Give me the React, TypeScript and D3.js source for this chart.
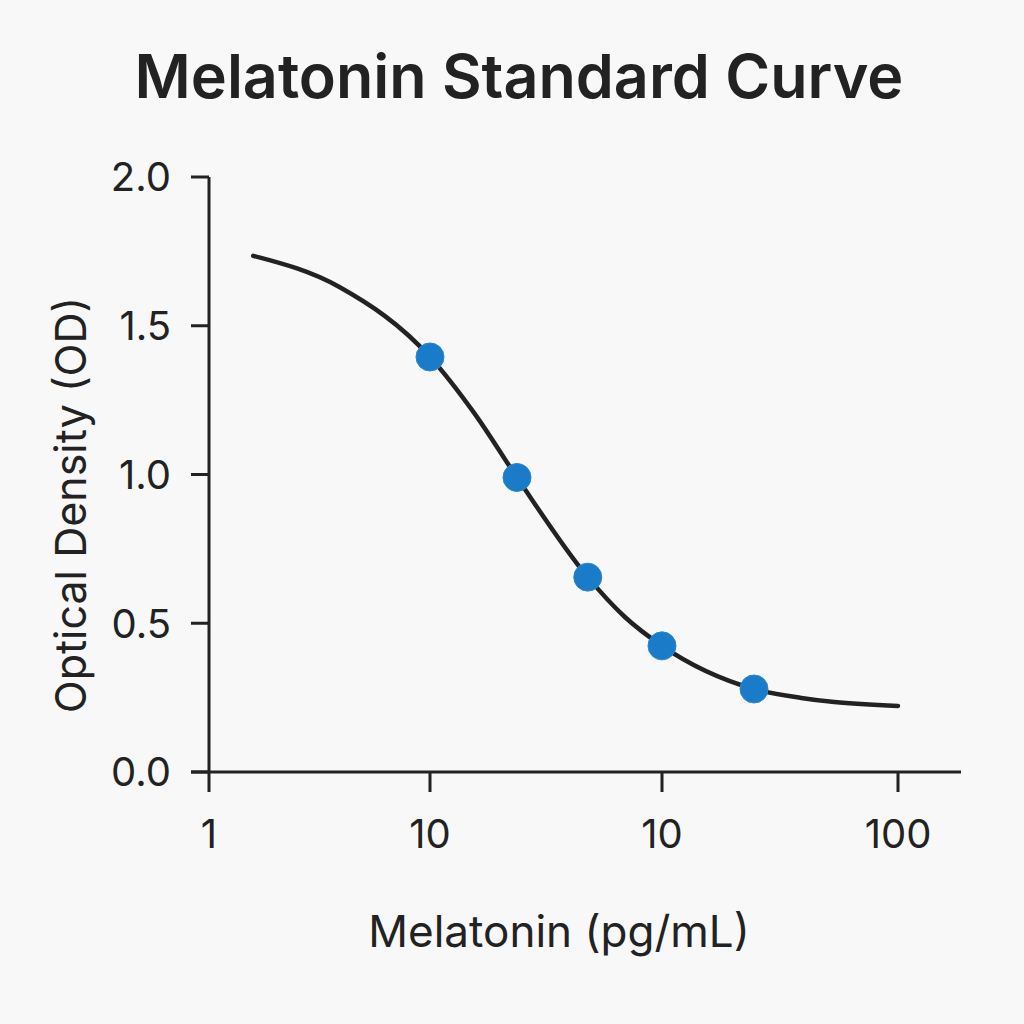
import React, { useEffect, useRef } from 'react';
import * as d3 from 'd3';

// Tick labels exactly as printed on the x axis (the axis is indexed by tick position)
const xTickLabels = ['1', '10', '10', '100'];
const yTicks = [0, 0.5, 1.0, 1.5, 2.0];

// Standard points: x in tick-index units, OD values
const standardX = [1.0, 1.375, 1.68, 2.0, 2.39];
const standardOD = [1.395, 0.99, 0.655, 0.424, 0.279];

// Fitted curve
const curveX = [0.2, 0.59, 1.0, 1.19, 1.375, 1.68, 1.84, 2.0, 2.39, 2.59, 2.73, 3.0];
const curveOD = [1.735, 1.63, 1.395, 1.207, 0.99, 0.655, 0.521, 0.424, 0.279, 0.249, 0.235, 0.222];

const App = () => {
  const width = 1024;
  const height = 1024;
  const svgRef = useRef<SVGSVGElement | null>(null);

  useEffect(() => {
    const svg = d3.select(svgRef.current);
    svg.selectAll('*').remove();

    const font = 'Inter, "Noto Sans", sans-serif';
    const ink = '#222';

    svg.append('rect').attr('width', width).attr('height', height).attr('fill', '#f8f8f8');

    // x positions of the four printed ticks are not evenly spaced
    const x = d3.scaleLinear().domain([0, 1, 2, 3]).range([209, 430, 662, 898]);
    const y = d3.scaleLinear().domain([0, 2]).range([772, 177]);

    // Title
    svg
      .append('text')
      .attr('x', 519)
      .attr('y', 98)
      .attr('text-anchor', 'middle')
      .style('font-family', font)
      .style('font-weight', 600)
      .style('font-size', '61px')
      .style('fill', ink)
      .text('Melatonin Standard Curve');

    // Y axis
    svg
      .append('line')
      .attr('x1', x(0))
      .attr('x2', x(0))
      .attr('y1', y(2))
      .attr('y2', y(0))
      .attr('stroke', ink)
      .attr('stroke-width', 3);

    svg
      .selectAll('.ytick')
      .data(yTicks)
      .enter()
      .append('line')
      .attr('x1', x(0) - 18)
      .attr('x2', x(0))
      .attr('y1', (d) => y(d))
      .attr('y2', (d) => y(d))
      .attr('stroke', ink)
      .attr('stroke-width', 3);

    svg
      .selectAll('.ylabel')
      .data(yTicks)
      .enter()
      .append('text')
      .attr('x', 171)
      .attr('y', (d) => y(d))
      .attr('dy', '0.36em')
      .attr('text-anchor', 'end')
      .style('font-family', font)
      .style('font-size', '40px')
      .style('fill', ink)
      .text((d) => d3.format('.1f')(d));

    // X axis
    svg
      .append('line')
      .attr('x1', x(0) - 18)
      .attr('x2', 961)
      .attr('y1', y(0))
      .attr('y2', y(0))
      .attr('stroke', ink)
      .attr('stroke-width', 3);

    svg
      .selectAll('.xtick')
      .data(xTickLabels)
      .enter()
      .append('line')
      .attr('x1', (_, i) => x(i))
      .attr('x2', (_, i) => x(i))
      .attr('y1', y(0))
      .attr('y2', y(0) + 20)
      .attr('stroke', ink)
      .attr('stroke-width', 3);

    svg
      .selectAll('.xlabel')
      .data(xTickLabels)
      .enter()
      .append('text')
      .attr('x', (_, i) => x(i))
      .attr('y', 848)
      .attr('text-anchor', 'middle')
      .style('font-family', font)
      .style('font-size', '40px')
      .style('fill', ink)
      .text((d) => d);

    // Axis titles
    svg
      .append('text')
      .attr('x', 559)
      .attr('y', 947)
      .attr('text-anchor', 'middle')
      .style('font-family', font)
      .style('font-size', '44px')
      .style('fill', ink)
      .text('Melatonin (pg/mL)');

    svg
      .append('text')
      .attr('transform', 'translate(86, 505) rotate(-90)')
      .attr('text-anchor', 'middle')
      .style('font-family', font)
      .style('font-size', '43px')
      .style('fill', ink)
      .text('Optical Density (OD)');

    // Fitted curve
    const curve = curveX.map((cx, i) => [cx, curveOD[i]] as [number, number]);
    const line = d3
      .line<[number, number]>()
      .x((d) => x(d[0]))
      .y((d) => y(d[1]))
      .curve(d3.curveMonotoneX);

    svg
      .append('path')
      .attr('d', line(curve))
      .attr('fill', 'none')
      .attr('stroke', ink)
      .attr('stroke-width', 4.5)
      .attr('stroke-linecap', 'round');

    // Standard points
    svg
      .selectAll('circle')
      .data(standardX)
      .enter()
      .append('circle')
      .attr('cx', (d) => x(d))
      .attr('cy', (_, i) => y(standardOD[i]))
      .attr('r', 14)
      .attr('fill', '#1a7cc8')
      .attr('stroke', '#2a88d0')
      .attr('stroke-width', 1);
  }, []);

  return (
    <svg
      ref={svgRef}
      width={width}
      height={height}
      style={{ position: 'absolute', top: 0, left: 0 }}
    ></svg>
  );
};

export default App;
